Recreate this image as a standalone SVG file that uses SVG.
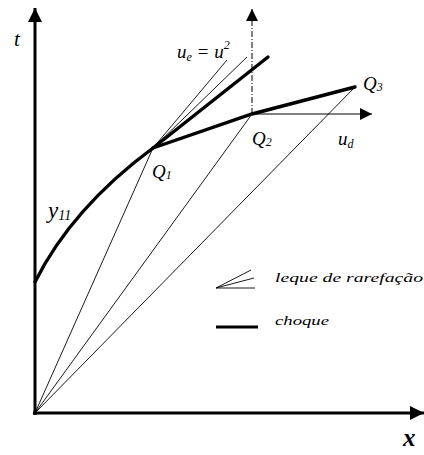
<svg xmlns="http://www.w3.org/2000/svg" width="424" height="455" viewBox="0 0 424 455">
<style>
.lbl{font-family:"Liberation Serif","DejaVu Serif",serif;font-style:italic;fill:#000}
.thin{stroke:#000;stroke-width:0.9;fill:none}
.shock{stroke:#000;stroke-width:3.4;fill:none;stroke-linecap:round}
.axis{stroke:#000;stroke-width:3;fill:none}
</style>
<defs>
<marker id="ah" viewBox="0 0 10 10" refX="10" refY="5" markerWidth="12" markerHeight="12" markerUnits="userSpaceOnUse" orient="auto"><path d="M0,0 L10,5 L0,10 Z" fill="#000"/></marker>
<marker id="ahBig" viewBox="0 0 10 10" refX="10" refY="5" markerWidth="14" markerHeight="14" markerUnits="userSpaceOnUse" orient="auto"><path d="M0,0 L10,5 L0,10 Z" fill="#000"/></marker>
</defs>
<g id="axes">
<line class="axis" x1="35" y1="415" x2="35" y2="8" marker-end="url(#ahBig)"/>
<line class="axis" x1="33" y1="413" x2="424" y2="413" marker-end="url(#ahBig)"/>
<text class="lbl" x="14" y="46" font-size="21">t</text>
<text class="lbl" x="403" y="446" font-size="25" font-weight="bold">x</text>
</g>
<g id="connectors">
<line class="thin" x1="35" y1="413" x2="153" y2="148"/>
<line class="thin" x1="35" y1="413" x2="252" y2="114"/>
<line class="thin" x1="35" y1="413" x2="355" y2="87"/>
<line class="thin" x1="153" y1="148" x2="227" y2="60"/>
<line class="thin" x1="153" y1="148" x2="247" y2="57"/>
<line stroke="#000" stroke-width="1" stroke-dasharray="6,2,1,2" x1="252" y1="114" x2="252" y2="9" marker-end="url(#ah)"/>
<line stroke="#000" stroke-width="1" x1="252" y1="114" x2="372" y2="114" marker-end="url(#ah)"/>
<path class="shock" d="M35,282 Q72,208 153,148"/>
<line class="shock" x1="153" y1="148" x2="268" y2="57"/>
<polyline class="shock" points="153,148 252,114 355,87"/>
</g>
<g id="labels">
<text class="lbl" x="177" y="58" font-size="19">u<tspan font-size="12" dy="3">e</tspan><tspan dy="-3"> = u</tspan><tspan font-size="12" dy="-9">2</tspan></text>
<text class="lbl" x="48" y="218" font-size="23">y<tspan font-size="14" dy="2">11</tspan></text>
<text class="lbl" x="152" y="178" font-size="19">Q<tspan font-size="12" dy="1">1</tspan></text>
<text class="lbl" x="252" y="145" font-size="19">Q<tspan font-size="12" dy="1">2</tspan></text>
<text class="lbl" x="363" y="90" font-size="19">Q<tspan font-size="12" dy="1">3</tspan></text>
<text class="lbl" x="338" y="145" font-size="19">u<tspan font-size="12" dy="3">d</tspan></text>
</g>
<g id="legend">
<line class="thin" x1="216" y1="288" x2="251" y2="270"/>
<line class="thin" x1="216" y1="288" x2="254" y2="278"/>
<line class="thin" x1="216" y1="288" x2="255" y2="288"/>
<text class="lbl" x="275" y="282" font-size="13" textLength="148" lengthAdjust="spacingAndGlyphs">leque de rarefação</text>
<line stroke="#000" stroke-width="3" x1="216" y1="327" x2="258" y2="327"/>
<text class="lbl" x="275" y="325" font-size="13" textLength="54" lengthAdjust="spacingAndGlyphs">choque</text>
</g>
</svg>
